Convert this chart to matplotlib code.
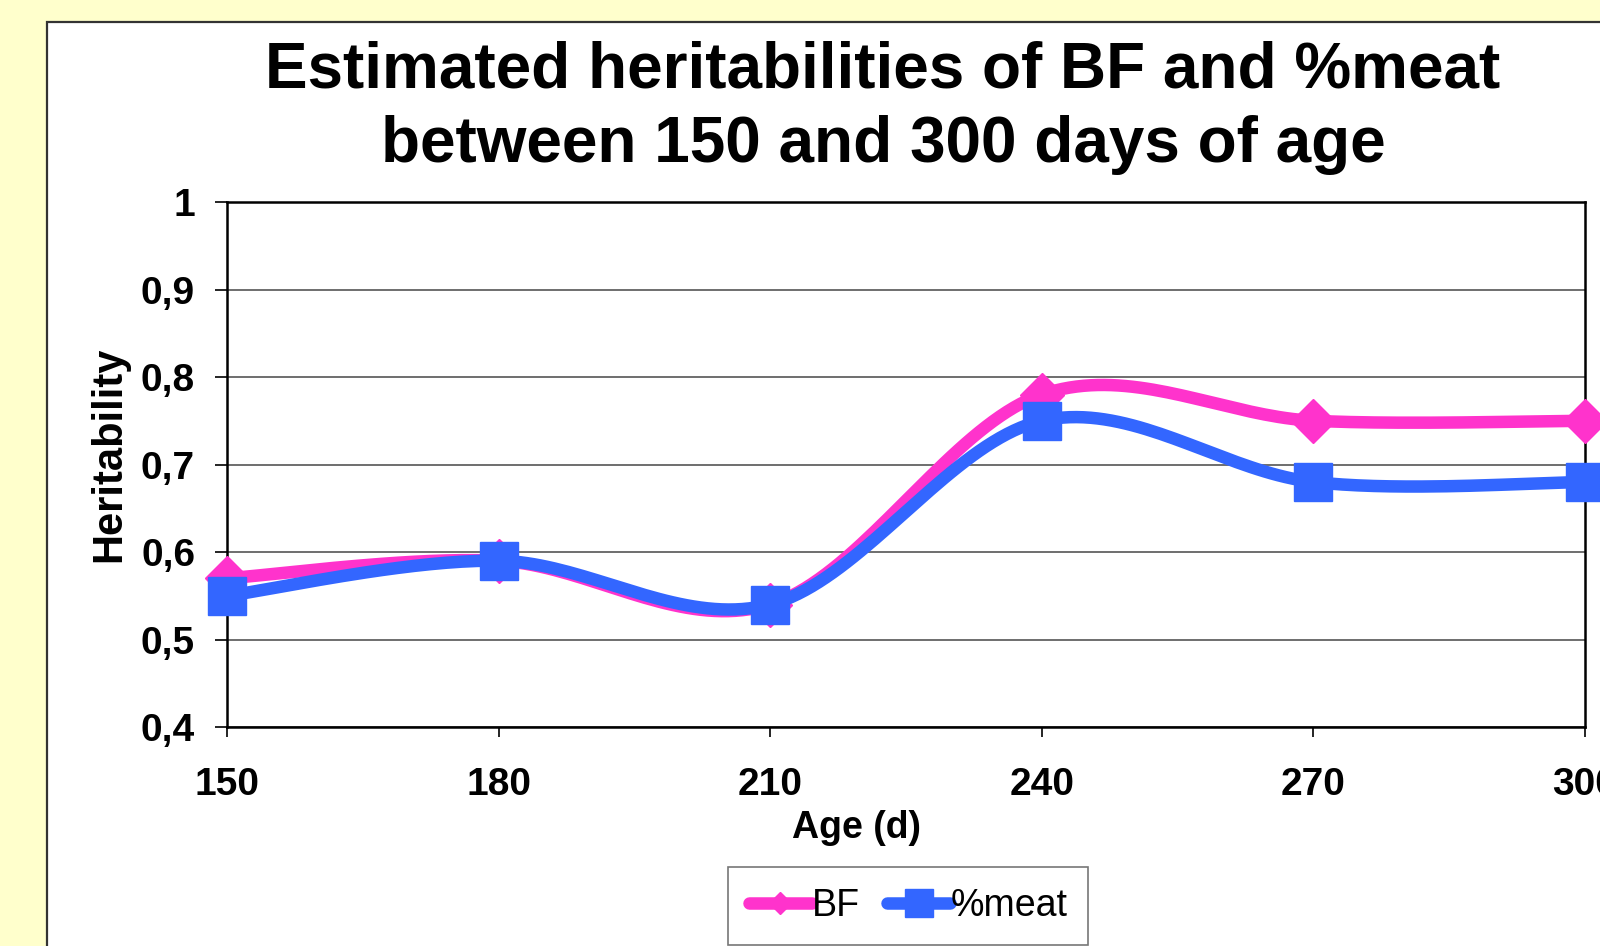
import numpy as np
import matplotlib.pyplot as plt
from matplotlib.patches import Rectangle

# Data
ages = [150, 180, 210, 240, 270, 300]
bf = [0.57, 0.59, 0.54, 0.78, 0.75, 0.75]
meat = [0.55, 0.59, 0.54, 0.75, 0.68, 0.68]
y_ticks = [0.4, 0.5, 0.6, 0.7, 0.8, 0.9, 1.0]
y_tick_labels = ['0,4', '0,5', '0,6', '0,7', '0,8', '0,9', '1']


# Excel-style smoothed line (Catmull-Rom as cubic Bezier)
def smooth(x, y, n=40):
    x = np.asarray(x, float)
    y = np.asarray(y, float)
    px = np.concatenate([[x[0]], x, [x[-1]]])
    py = np.concatenate([[y[0]], y, [y[-1]]])
    xs, ys = [], []
    t = np.linspace(0, 1, n)
    for i in range(1, len(px) - 2):
        p0 = np.array([px[i], py[i]])
        p3 = np.array([px[i + 1], py[i + 1]])
        p1 = p0 + (np.array([px[i + 1], py[i + 1]]) - np.array([px[i - 1], py[i - 1]])) / 6
        p2 = p3 - (np.array([px[i + 2], py[i + 2]]) - np.array([px[i], py[i]])) / 6
        b = ((1 - t) ** 3)[:, None] * p0 + (3 * (1 - t) ** 2 * t)[:, None] * p1 \
            + (3 * (1 - t) * t ** 2)[:, None] * p2 + (t ** 3)[:, None] * p3
        xs.append(b[:, 0])
        ys.append(b[:, 1])
    return np.concatenate(xs), np.concatenate(ys)


W, H = 1600, 946
fig = plt.figure(figsize=(W / 100, H / 100), dpi=100)
fig.patch.set_facecolor('#FFFFCC')
plt.rcParams['font.family'] = ['Liberation Sans', 'DejaVu Sans']

# white chart area (runs past the right and bottom edge)
fig.patches.append(Rectangle((47 / W, -0.05), 1.2, 1 - 22 / H + 0.05, transform=fig.transFigure,
                             facecolor='white', edgecolor='#333333', linewidth=1.6, zorder=-1))

left, right, top, bottom = 227, 1585, 202, 727
ax = fig.add_axes([left / W, 1 - bottom / H, (right - left) / W, (bottom - top) / H])
ax.set_zorder(1)
ax.set_facecolor('white')

pink = '#FF33CC'
blue = '#3366FF'
lw = 9

sx, sy = smooth(ages, bf)
ax.plot(sx, sy, color=pink, lw=lw, solid_capstyle='round', clip_on=False, zorder=3)
ax.plot(ages, bf, ls='none', marker='D', ms=22, color=pink, clip_on=False, zorder=3)
sx, sy = smooth(ages, meat)
ax.plot(sx, sy, color=blue, lw=lw, solid_capstyle='round', clip_on=False, zorder=4)
ax.plot(ages, meat, ls='none', marker='s', ms=27, color=blue, clip_on=False, zorder=4)

ax.set_xlim(150, 300)
ax.set_ylim(0.4, 1.0)
ax.set_xticks(ages)
ax.set_xticklabels([str(a) for a in ages], fontsize=28, fontweight='bold')
ax.set_yticks(y_ticks)
ax.set_yticklabels(y_tick_labels, fontsize=28, fontweight='bold')
ax.tick_params(axis='x', length=7, width=1.2, pad=22, direction='out')
ax.tick_params(axis='y', length=9, width=1.2, pad=14, direction='out')
ax.grid(axis='y', color='#555555', lw=1.2)
ax.set_axisbelow(True)
for s in ax.spines.values():
    s.set_color('black')
    s.set_linewidth(1.8)

fig.text(883 / W, 1 - 70 / H, 'Estimated heritabilities of BF and %meat',
         ha='center', va='center', fontsize=46, fontweight='bold')
fig.text(883 / W, 1 - 145 / H, 'between 150 and 300 days of age',
         ha='center', va='center', fontsize=46, fontweight='bold')
fig.text(109 / W, 1 - 454 / H, 'Heritability', rotation=90,
         ha='center', va='center', fontsize=30, fontweight='bold')
fig.text(857 / W, 1 - 828 / H, 'Age (d)', ha='center', va='center',
         fontsize=27, fontweight='bold')

h1, = ax.plot([], [], color=pink, lw=lw, marker='D', ms=11, solid_capstyle='round')
h2, = ax.plot([], [], color=blue, lw=lw, marker='s', ms=20, solid_capstyle='round')
leg = fig.legend([h1, h2], ['BF', '%meat'], loc='center', bbox_to_anchor=(908 / W, 1 - 906 / H),
                 ncol=2, fontsize=27, frameon=True, fancybox=False, handlelength=1.7,
                 handletextpad=0.0, columnspacing=0.7, borderpad=0.55, borderaxespad=0)
leg.get_frame().set_edgecolor('#555555')
leg.get_frame().set_linewidth(1.2)

fig.savefig('out.png', dpi=100, facecolor=fig.get_facecolor())
